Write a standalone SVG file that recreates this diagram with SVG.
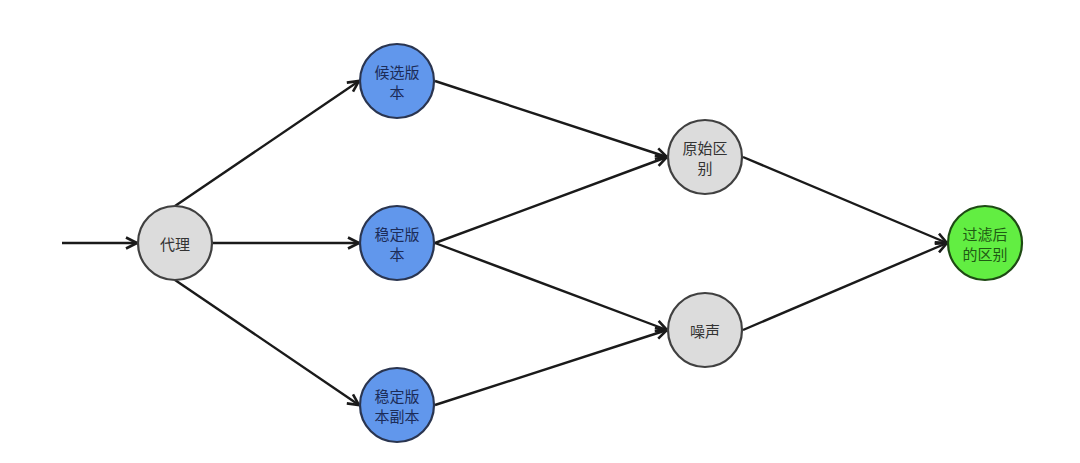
<svg xmlns="http://www.w3.org/2000/svg" width="1080" height="463" viewBox="0 0 1080 463">
<defs>
<marker id="arr" viewBox="0 0 14 14" refX="12.5" refY="7" markerWidth="14" markerHeight="14" markerUnits="userSpaceOnUse" orient="auto">
<path d="M1.5,1.5 L12.5,7 L1.5,12.5" fill="none" stroke="#1a1a1a" stroke-width="2.6" stroke-linejoin="miter"/>
</marker>
<style>
.edge{stroke:#1a1a1a;stroke-width:2.4;fill:none;marker-end:url(#arr);}
.gray circle{fill:#dcdcdc;stroke:#404040;stroke-width:2.2;}
.blue circle{fill:#6197ec;stroke:#2a3550;stroke-width:2.2;}
.green circle{fill:#62ee42;stroke:#1e4a14;stroke-width:2.2;}
text{font-family:"Noto Sans CJK SC","Noto Sans",sans-serif;font-size:15px;text-anchor:middle;dominant-baseline:central;}
.gray text{fill:#333333;}
.blue text{fill:#1c2c58;}
.green text{fill:#1f5a14;}
</style>
</defs>
<rect width="1080" height="463" fill="#ffffff"/>
<g id="edges">
<line class="edge" x1="62" y1="243" x2="137" y2="243"/>
<line class="edge" x1="175" y1="206" x2="359" y2="81"/>
<line class="edge" x1="212" y1="243" x2="359" y2="243"/>
<line class="edge" x1="175" y1="280" x2="359" y2="405"/>
<line class="edge" x1="435" y1="81" x2="667" y2="157"/>
<line class="edge" x1="435" y1="243" x2="667" y2="157"/>
<line class="edge" x1="435" y1="243" x2="667" y2="330"/>
<line class="edge" x1="435" y1="405" x2="667" y2="330"/>
<line class="edge" x1="743" y1="157" x2="947" y2="243"/>
<line class="edge" x1="743" y1="330" x2="947" y2="243"/>
</g>
<g id="n-daili" class="gray"><circle cx="175" cy="243" r="37"/><text x="175" y="243">代理</text></g>
<g id="n-houxuan" class="blue"><circle cx="397" cy="81" r="37"/><text x="397" y="71">候选版</text><text x="397" y="91">本</text></g>
<g id="n-wending" class="blue"><circle cx="397" cy="243" r="37"/><text x="397" y="233">稳定版</text><text x="397" y="253">本</text></g>
<g id="n-fuben" class="blue"><circle cx="397" cy="405" r="37"/><text x="397" y="395">稳定版</text><text x="397" y="415">本副本</text></g>
<g id="n-yuanshi" class="gray"><circle cx="705" cy="157" r="37"/><text x="705" y="147">原始区</text><text x="705" y="167">别</text></g>
<g id="n-zaosheng" class="gray"><circle cx="705" cy="330" r="37"/><text x="705" y="330">噪声</text></g>
<g id="n-guolv" class="green"><circle cx="985" cy="243" r="37"/><text x="985" y="233">过滤后</text><text x="985" y="253">的区别</text></g>
</svg>
